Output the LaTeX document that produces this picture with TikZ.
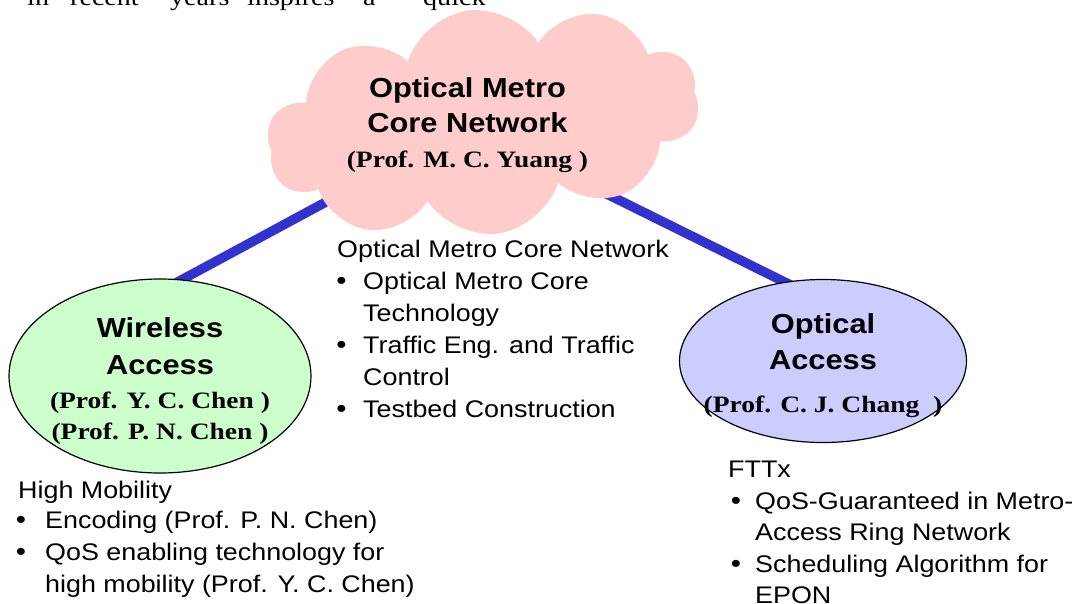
\documentclass[tikz,border=0pt]{standalone}
\usepackage{fontspec}
\usetikzlibrary{shapes.geometric,shapes.symbols,backgrounds}
\newfontfamily\bodyf{Liberation Sans}[FakeStretch=1.12]
\newfontfamily\serf{Liberation Serif}[FakeStretch=1.17]
\definecolor{cloudpink}{RGB}{255,204,204}
\definecolor{linkblue}{RGB}{51,51,204}
\definecolor{wgreen}{RGB}{204,255,204}
\definecolor{oblue}{RGB}{204,204,255}
\begin{document}
\begin{tikzpicture}[x=1pt,y=-1pt,
  body/.style={font=\bodyf\fontsize{24}{32}\selectfont, anchor=base west, inner sep=0},
  bul/.style={font=\bodyf\fontsize{26}{32}\selectfont, anchor=base, inner sep=0},
  toptext/.style={font=\serf\fontsize{24}{30}\selectfont, anchor=base west, inner sep=0},
  title/.style={font=\bodyf\bfseries\fontsize{27.5}{33}\selectfont, anchor=base, inner sep=0},
  prof/.style={font=\serf\bfseries\fontsize{23.5}{30}\selectfont, anchor=base, inner sep=0},
  link/.style={draw=linkblue, line width=9.5pt, shorten <=-25pt, shorten >=-40pt},
  ell/.style={ellipse, draw=black, line width=1.2pt, inner sep=0},
  cloudnode/.style={cloud, cloud puffs=10, cloud puff arc=130, aspect=1.95, fill=cloudpink, inner sep=0}]
\useasboundingbox (0,0) rectangle (1077,603);

% cropped line of page text
\node[toptext] (t1) at (27,5) {in};
\node[toptext] (t2) at (70,5) {recent};
\node[toptext] (t3) at (170,5) {years};
\node[toptext] (t4) at (247,5) {inspires};
\node[toptext] (t5) at (363,5) {a};
\node[toptext] (t6) at (423,5) {quick};

% main shapes
\node[cloudnode, minimum width=435pt, minimum height=225pt, rotate=8] (core) at (483,122) {};
\node[ell, fill=wgreen, minimum width=302pt, minimum height=194pt] (wl) at (160,376) {};
\node[ell, fill=oblue, minimum width=287pt, minimum height=163pt] (oa) at (823,361) {};

\begin{scope}[on background layer]
  \draw[link] (wl.77) -- (core.199);
  \draw[link] (oa.116) -- (core.322);
\end{scope}

% cloud text
\node[title] (c1) at (467.5,97) {Optical Metro};
\node[title] (c2) at (467.5,132) {Core Network};
\node[prof] (c3) at (467.5,167) {(Prof. M. C. Yuang )};

% wireless text
\node[title] (w1) at (160,337) {Wireless};
\node[title] (w2) at (160,374) {Access};
\node[prof] (w3) at (160,408) {(Prof. Y. C. Chen )};
\node[prof] (w4) at (160,439) {(Prof. P. N. Chen )};

% optical access text
\node[title] (o1) at (823,333) {Optical};
\node[title] (o2) at (823,369) {Access};
\node[prof] (o3) at (823,412) {(Prof. C. J. Chang~~)};

% middle list
\node[body] (mh) at (337,257) {Optical Metro Core Network};
\node[bul] (mb1) at (341.5,289) {•};
\node[body] (m1a) at (363,289) {Optical Metro Core};
\node[body] (m1b) at (363,321) {Technology};
\node[bul] (mb2) at (341.5,353) {•};
\node[body] (m2a) at (363,353) {Traffic Eng. and Traffic};
\node[body] (m2b) at (363,385) {Control};
\node[bul] (mb3) at (341.5,417) {•};
\node[body] (m3a) at (363,417) {Testbed Construction};

% left list
\node[body] (lh) at (18,498) {High Mobility};
\node[bul] (lb1) at (21,528) {•};
\node[body] (l1a) at (45,528) {Encoding (Prof. P. N. Chen)};
\node[bul] (lb2) at (21,560) {•};
\node[body] (l2a) at (45,560) {QoS enabling technology for};
\node[body] (l2b) at (45,592) {high mobility (Prof. Y. C. Chen)};

% right list
\node[body] (rh) at (728,477) {FTTx};
\node[bul] (rb1) at (736,509) {•};
\node[body] (r1a) at (755,509) {QoS-Guaranteed in Metro-};
\node[body] (r1b) at (755,540) {Access Ring Network};
\node[bul] (rb2) at (736,572) {•};
\node[body] (r2a) at (755,572) {Scheduling Algorithm for};
\node[body] (r2b) at (755,603) {EPON};
\end{tikzpicture}
\end{document}
